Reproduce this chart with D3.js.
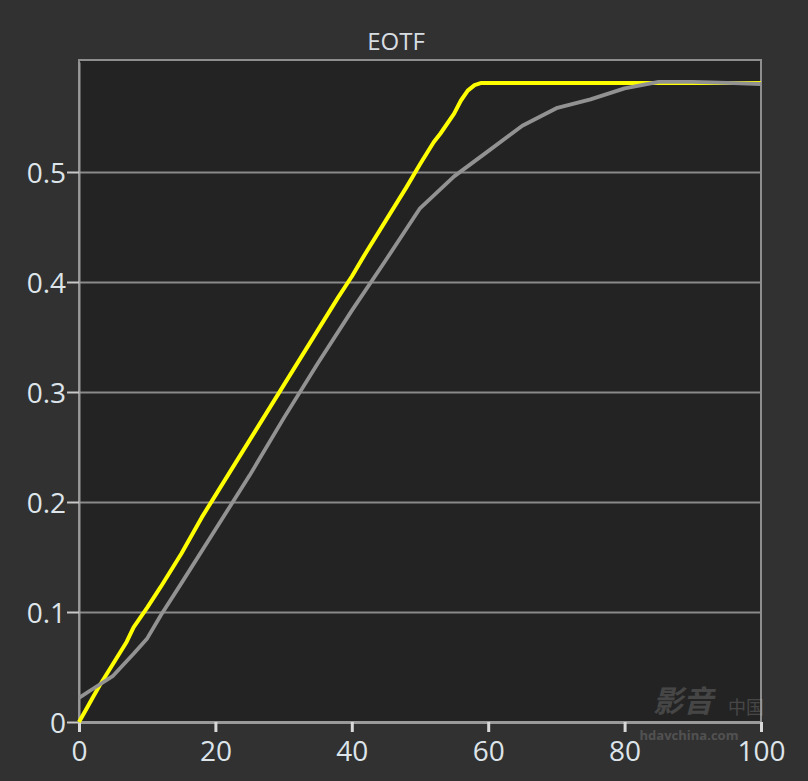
<!DOCTYPE html>
<html>
<head>
<meta charset="utf-8">
<script src="https://cdn.jsdelivr.net/npm/d3@7"></script>
<style>
  html, body { margin: 0; padding: 0; background: #313131; }
  svg { display: block; }
</style>
</head>
<body>
<svg id="chart" width="808" height="781"></svg>
<script>
// ---- data ----
const title = "EOTF";
const xTicks = [0, 20, 40, 60, 80, 100];
const yTicks = [0, 0.1, 0.2, 0.3, 0.4, 0.5];
const yTickLabels = ["0", "0.1", "0.2", "0.3", "0.4", "0.5"];

const targetX = [0, 1, 2, 3, 5, 7, 8, 10, 12, 15, 18, 20, 22, 25, 28, 30, 33, 35, 38, 40, 42, 45, 48, 50, 52, 53, 55, 56, 57, 58, 59, 60, 70, 80, 90, 100];
const targetY = [0, 0.011, 0.022, 0.033, 0.053, 0.073, 0.086, 0.104, 0.123, 0.153, 0.186, 0.206, 0.226, 0.256, 0.286, 0.306, 0.336, 0.356, 0.386, 0.405, 0.426, 0.456, 0.486, 0.507, 0.527, 0.535, 0.553, 0.565, 0.574, 0.579, 0.581, 0.581, 0.581, 0.581, 0.581, 0.581];

const measX = [0, 2, 5, 8, 10, 12, 15, 20, 25, 30, 35, 40, 45, 50, 55, 60, 65, 70, 75, 80, 85, 90, 95, 100];
const measY = [0.022, 0.030, 0.042, 0.062, 0.076, 0.097, 0.126, 0.175, 0.224, 0.276, 0.326, 0.374, 0.420, 0.467, 0.496, 0.519, 0.542, 0.558, 0.566, 0.576, 0.582, 0.582, 0.581, 0.580];

const watermarkTexts = ["影音", "中国", "hdavchina.com"];

// ---- layout ----
const svg = d3.select("#chart");
const L = 79, R = 761, T = 60, B = 722;
const x = d3.scaleLinear().domain([0, 100]).range([L, R]);
const y = d3.scaleLinear().domain([0, 0.6]).range([B, B - 660]);
const font = "'Open Sans', 'Noto Sans', sans-serif";
const labelColor = "#dde4ea";

// plot background
svg.append("rect").attr("x", L).attr("y", T).attr("width", R - L).attr("height", B - T)
  .attr("fill", "#232323");

// horizontal gridlines
svg.append("g").selectAll("line").data(yTicks.filter(d => d > 0)).join("line")
  .attr("x1", L).attr("x2", R)
  .attr("y1", d => Math.round(y(d)) + 0.5).attr("y2", d => Math.round(y(d)) + 0.5)
  .attr("stroke", "#8a8a8a").attr("stroke-width", 2);

// border
svg.append("rect").attr("x", L).attr("y", T).attr("width", R - L).attr("height", B - T)
  .attr("fill", "none").attr("stroke", "#8e8e8e").attr("stroke-width", 2);

// axes
const xAxis = d3.axisBottom(x).tickValues(xTicks).tickSizeInner(10).tickSizeOuter(0)
  .tickPadding(9).tickFormat(d3.format("d"));
const gx = svg.append("g").attr("transform", `translate(0,${B})`).call(xAxis);
gx.select(".domain").attr("stroke", "#9a9a9a").attr("stroke-width", 3);
gx.selectAll(".tick line").attr("stroke", "#d8d8d8").attr("stroke-width", 3);
gx.selectAll(".tick text").attr("fill", labelColor).attr("font-family", font).attr("font-size", 28);

const yAxis = d3.axisLeft(y).tickValues(yTicks).tickSizeInner(12).tickSizeOuter(0).tickPadding(1)
  .tickFormat((d, i) => yTickLabels[i]);
const gy = svg.append("g").attr("transform", `translate(${L},0)`).call(yAxis);
gy.select(".domain").attr("stroke", "#9a9a9a").attr("stroke-width", 2);
gy.selectAll(".tick line").attr("stroke", "#c8c8c8").attr("stroke-width", 2);
gy.selectAll(".tick text").attr("fill", labelColor).attr("font-family", font).attr("font-size", 28)
  .attr("dy", "0.36em");

// lines
const line = d3.line().x(d => x(d[0])).y(d => y(d[1]));
svg.append("path").datum(targetX.map((v, i) => [v, targetY[i]]))
  .attr("d", line).attr("fill", "none").attr("stroke", "#ffff00")
  .attr("stroke-width", 4).attr("stroke-linejoin", "round");
svg.append("path").datum(measX.map((v, i) => [v, measY[i]]))
  .attr("d", line).attr("fill", "none").attr("stroke", "#929292")
  .attr("stroke-width", 3.8).attr("stroke-linejoin", "round");

// title
svg.append("text").attr("x", 396).attr("y", 50).attr("text-anchor", "middle")
  .attr("fill", "#d8dde2").attr("font-family", font).attr("font-size", 24)
  .text(title);

// watermark
const wm = svg.append("g").attr("opacity", 0.22).attr("fill", "#c4c4c4");
wm.append("text").attr("x", 683).attr("y", 712).attr("text-anchor", "middle")
  .attr("font-size", 30).attr("font-style", "italic").attr("font-weight", "bold")
  .attr("font-family", "'Noto Sans CJK SC', sans-serif").text(watermarkTexts[0]);
wm.append("text").attr("x", 746).attr("y", 714).attr("text-anchor", "middle")
  .attr("font-size", 18).attr("font-family", "'Noto Sans CJK SC', sans-serif").text(watermarkTexts[1]);
wm.append("text").attr("x", 689).attr("y", 740).attr("text-anchor", "middle")
  .attr("font-size", 13).attr("font-weight", "bold").attr("font-family", font).text(watermarkTexts[2]);
</script>
</body>
</html>
